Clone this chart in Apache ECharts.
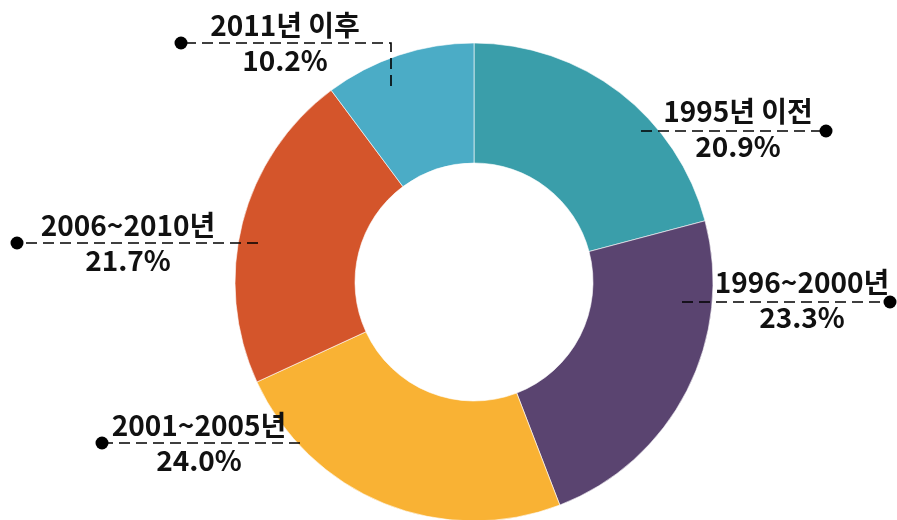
<!DOCTYPE html>
<html>
<head>
<meta charset="utf-8">
<script src="https://cdn.jsdelivr.net/npm/echarts@6/dist/echarts.min.js"></script>
<style>
html,body{margin:0;padding:0;background:#fff;}
#main{width:897px;height:520px;}
</style>
</head>
<body>
<div id="main"></div>
<script>
// ---- data ----
var categories = ['1995년 이전', '1996~2000년', '2001~2005년', '2006~2010년', '2011년 이후'];
var shares = [20.9, 23.3, 24.0, 21.7, 10.2];

// ---- styling / layout (not data) ----
var colors = ['#3A9EAA', '#5A4470', '#F9B234', '#D4552B', '#4BACC6'];
// label anchor: text center x, leader y, leader start x (inside slice), dot x, optional start y
var labelAnchors = [
  {tx: 738, ly: 131, sx: 641, dx: 826, dy: -2},
  {tx: 802, ly: 302, sx: 682, dx: 890, dy: -2},
  {tx: 199, ly: 443, sx: 300, dx: 102, dy: 0},
  {tx: 128, ly: 243, sx: 258, dx: 17, dy: 0},
  {tx: 285, ly: 43, sx: 391, dx: 181, dy: 0, sy: 86}
];

var chart = echarts.init(document.getElementById('main'), null, {renderer: 'canvas'});

var seriesData = categories.map(function (c, i) {
  return {name: c, value: shares[i], itemStyle: {color: colors[i]}};
});

var fontFam = '"Noto Sans CJK KR", "Noto Sans", sans-serif';

var graphics = [];
labelAnchors.forEach(function (a) {
  var pts = (a.sy != null)
    ? [[a.sx, a.sy], [a.sx, a.ly], [a.dx, a.ly]]
    : [[a.sx, a.ly], [a.dx, a.ly]];
  graphics.push({
    type: 'polyline',
    shape: {points: pts},
    style: {stroke: '#000', lineWidth: 1.6, lineDash: [11, 6], fill: null},
    z: 100
  });
  graphics.push({
    type: 'circle',
    shape: {cx: a.dx, cy: a.ly, r: 6.5},
    style: {fill: '#000'},
    z: 101
  });
});

chart.setOption({
  backgroundColor: '#fff',
  animation: false,
  graphic: graphics,
  series: [{
    type: 'pie',
    center: [474, 282],
    radius: [119, 239],
    startAngle: 90,
    clockwise: true,
    avoidLabelOverlap: false,
    itemStyle: {borderColor: 'rgba(255,255,255,0.6)', borderWidth: 1},
    label: {
      show: true,
      position: 'outside',
      formatter: function (p) {
        return '{n|' + p.name + '}\n{v|' + shares[p.dataIndex].toFixed(1) + '%}';
      },
      rich: {
        n: {fontFamily: fontFam, fontWeight: 'bold', fontSize: 28, lineHeight: 35, color: '#111', align: 'center'},
        v: {fontFamily: fontFam, fontWeight: 'bold', fontSize: 28, lineHeight: 35, color: '#111', align: 'center'}
      }
    },
    labelLine: {show: false},
    labelLayout: function (params) {
      var a = labelAnchors[params.dataIndex];
      return {
        x: a.tx,
        y: a.ly + a.dy,
        align: 'center',
        verticalAlign: 'middle'
      };
    },
    data: seriesData
  }]
});
</script>
</body>
</html>
